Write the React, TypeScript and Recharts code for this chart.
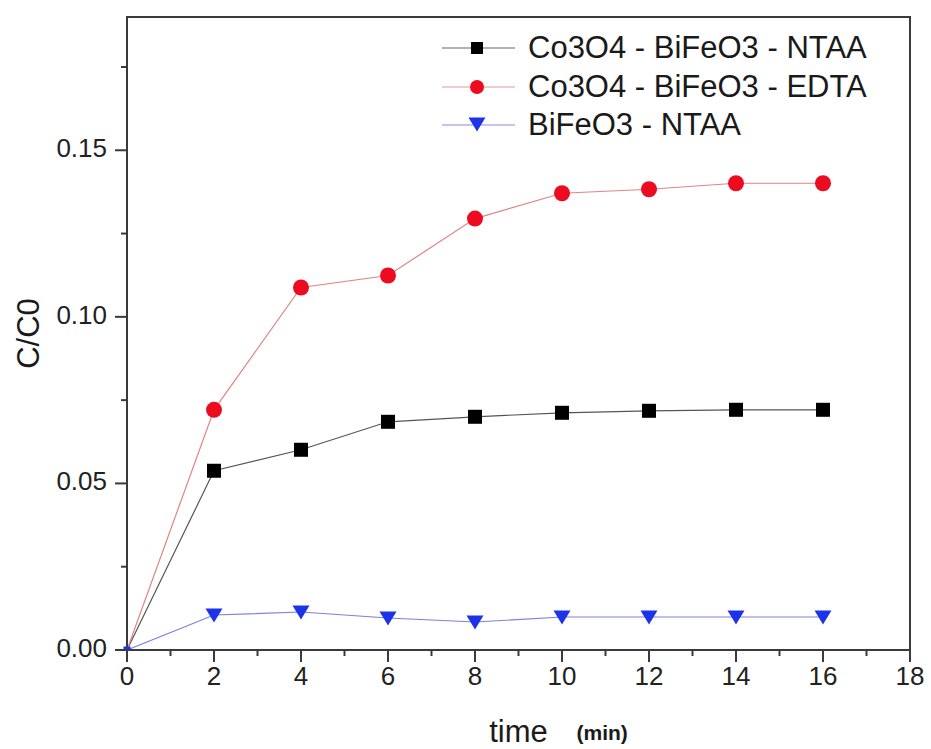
import React from 'react';
import {
  LineChart, Line, XAxis, YAxis, ReferenceArea,
} from 'recharts';

const time = [0, 2, 4, 6, 8, 10, 12, 14, 16];
const ntaa = [0, 0.0538, 0.0601, 0.0685, 0.07, 0.0712, 0.0718, 0.0721, 0.0721];
const edta = [0, 0.0721, 0.1088, 0.1124, 0.1295, 0.1371, 0.1383, 0.1401, 0.1401];
const bfoNtaa = [0, 0.0105, 0.0114, 0.0096, 0.0084, 0.0099, 0.0099, 0.0099, 0.0099];

const xTicks = [0, 1, 2, 3, 4, 5, 6, 7, 8, 9, 10, 11, 12, 13, 14, 15, 16, 17, 18];
const yTicks = [0, 0.025, 0.05, 0.075, 0.1, 0.125, 0.15, 0.175];

const seriesNames = ['Co3O4 - BiFeO3 - NTAA', 'Co3O4 - BiFeO3 - EDTA', 'BiFeO3 - NTAA'];

const data = time.map((t, i) => ({ time: t, ntaa: ntaa[i], edta: edta[i], bfo: bfoNtaa[i] }));

const FONT = '"Liberation Sans", Arial, sans-serif';
const AXIS = '#3a3a3a';

const Square = ({ cx, cy, fill, size }: any) => (
  <rect x={cx - size / 2} y={cy - size / 2} width={size} height={size} fill={fill} />
);
const Circle = ({ cx, cy, fill, rad }: any) => <circle cx={cx} cy={cy} r={rad} fill={fill} />;
const Tri = ({ cx, cy, fill }: any) => (
  <path d={`M${cx - 8.5},${cy - 6.5} L${cx + 8.5},${cy - 6.5} L${cx},${cy + 7.5} Z`} fill={fill} />
);

const blackDot = (p: any) =>
  p.index === 0 ? <g key={p.key} /> : <Square key={p.key} cx={p.cx} cy={p.cy} size={14} fill="#000" />;
const redDot = (p: any) =>
  p.index === 0 ? <g key={p.key} /> : <Circle key={p.key} cx={p.cx} cy={p.cy} rad={8} fill="#ec0b1f" />;
const blueDot = (p: any) =>
  p.index === 0
    ? <Square key={p.key} cx={p.cx} cy={p.cy} size={7} fill="#2233dd" />
    : <Tri key={p.key} cx={p.cx} cy={p.cy} fill="#1d33e8" />;

const XTick = ({ x, y, payload, index }: any) => {
  const major = index % 2 === 0;
  return (
    <g>
      <line x1={x} y1={y} x2={x} y2={y + (major ? 12 : 6)} stroke={AXIS} strokeWidth={2} />
      {major && (
        <text x={x} y={y + 35} textAnchor="middle" fontSize={26} fill="#222" fontFamily={FONT}>
          {payload.value}
        </text>
      )}
    </g>
  );
};

const YTick = ({ x, y, payload, index }: any) => {
  const major = index % 2 === 0;
  return (
    <g>
      <line x1={x - (major ? 12 : 6)} y1={y} x2={x} y2={y} stroke={AXIS} strokeWidth={2} />
      {major && (
        <text x={x - 20} y={y + 7} textAnchor="end" fontSize={26} fill="#222" fontFamily={FONT}>
          {payload.value.toFixed(2)}
        </text>
      )}
    </g>
  );
};

const legendItems = [
  { name: seriesNames[0], line: '#666', marker: <Square cx={37} cy={19} fill="#000" size={12} /> },
  { name: seriesNames[1], line: '#e69a9a', marker: <Circle cx={37} cy={19} rad={7} fill="#ec0b1f" /> },
  { name: seriesNames[2], line: '#8a8ae0', marker: <Tri cx={37} cy={18} fill="#1d33e8" /> },
];

const LegendBox = () => (
  <div style={{ position: 'absolute', top: 29, left: 440, fontFamily: FONT }}>
    {legendItems.map((it) => (
      <div key={it.name} style={{ display: 'flex', alignItems: 'center', height: 38.5 }}>
        <svg width={80} height={38} style={{ flex: 'none' }}>
          <line x1={2} y1={19} x2={75} y2={19} stroke={it.line} strokeWidth={1.2} />
          {it.marker}
        </svg>
        <span style={{ fontSize: 31, color: '#1a1a1a', marginLeft: 8, whiteSpace: 'nowrap', lineHeight: '38px' }}>
          {it.name}
        </span>
      </div>
    ))}
  </div>
);

export default function App() {
  return (
    <div style={{ position: 'absolute', left: 0, top: 0, width: 931, height: 749, background: '#fff' }}>
      <LineChart width={931} height={749} data={data} margin={{ top: 17, right: 21, left: 0, bottom: 0 }}>
        <ReferenceArea x1={0} x2={18} y1={0} y2={0.19} fill="none" stroke={AXIS} strokeWidth={2} />
        <XAxis
          dataKey="time"
          type="number"
          domain={[0, 18]}
          ticks={xTicks}
          interval={0}
          height={99}
          tickSize={0}
          tickMargin={0}
          tickLine={false}
          axisLine={{ stroke: AXIS, strokeWidth: 2 }}
          tick={<XTick />}
          label={{
            content: ({ viewBox }: any) => {
              const cx = viewBox.x + viewBox.width / 2;
              return (
                <g fontFamily={FONT} fill="#1a1a1a">
                  <text x={cx} y={742} textAnchor="middle" fontSize={31}>time</text>
                  <text x={cx + 58} y={740} fontSize={21} fontWeight="bold">(min)</text>
                </g>
              );
            },
          }}
        />
        <YAxis
          type="number"
          domain={[0, 0.19]}
          ticks={yTicks}
          interval={0}
          width={127}
          tickSize={0}
          tickMargin={0}
          tickLine={false}
          axisLine={{ stroke: AXIS, strokeWidth: 2 }}
          tick={<YTick />}
          allowDataOverflow
          label={{
            content: ({ viewBox }: any) => {
              const cy = viewBox.y + viewBox.height / 2;
              return (
                <text
                  x={28}
                  y={cy}
                  transform={`rotate(-90, 28, ${cy})`}
                  textAnchor="middle"
                  dominantBaseline="central"
                  fontSize={31}
                  fontFamily={FONT}
                  fill="#1a1a1a"
                >
                  C/C0
                </text>
              );
            },
          }}
        />
        <Line dataKey="ntaa" name={seriesNames[0]} stroke="#555" strokeWidth={1.2} dot={blackDot} isAnimationActive={false} />
        <Line dataKey="edta" name={seriesNames[1]} stroke="#e08585" strokeWidth={1.2} dot={redDot} isAnimationActive={false} />
        <Line dataKey="bfo" name={seriesNames[2]} stroke="#7f7fe0" strokeWidth={1.2} dot={blueDot} isAnimationActive={false} />
      </LineChart>
      <LegendBox />
    </div>
  );
}
